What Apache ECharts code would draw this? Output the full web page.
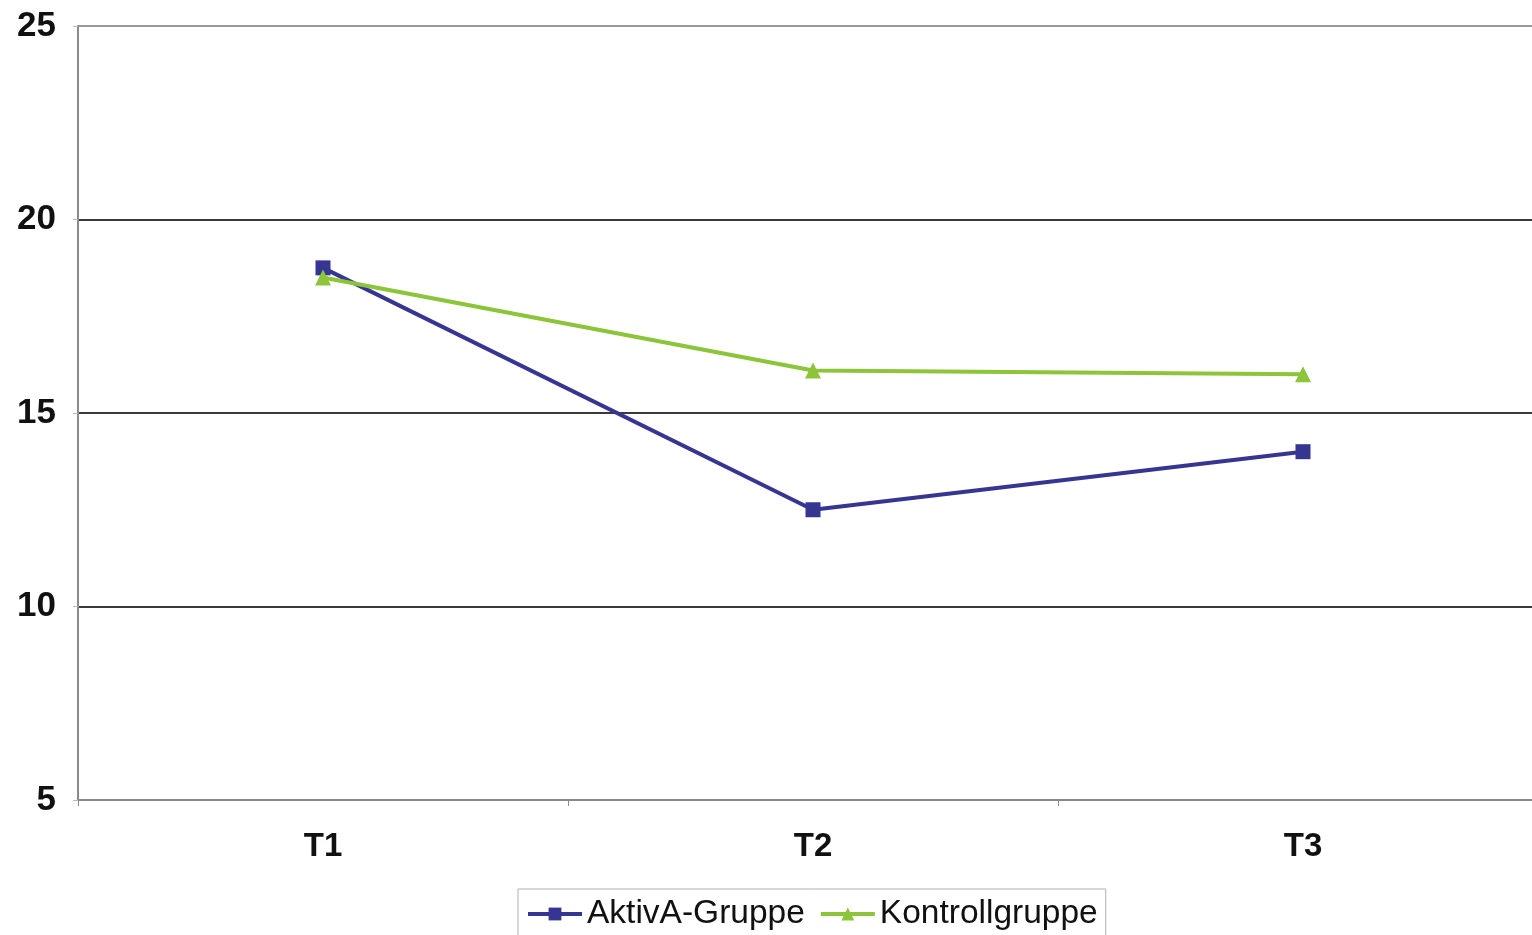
<!DOCTYPE html>
<html>
<head>
<meta charset="utf-8">
<script src="https://cdn.jsdelivr.net/npm/echarts@6/dist/echarts.min.js"></script>
<style>html,body{margin:0;padding:0;background:#fff;}#c{width:1532px;height:935px;}</style>
</head>
<body>
<div id="c"></div>
<script>
const categories = ['T1', 'T2', 'T3'];
const aktivA = [18.75, 12.5, 14.0];
const kontroll = [18.5, 16.1, 16.0];
const yMin = 5, yMax = 25, yStep = 5;

const chart = echarts.init(document.getElementById('c'));
chart.setOption({
  animation: false,
  backgroundColor: '#fff',
  textStyle: { fontFamily: 'Liberation Sans, Arial, sans-serif' },
  grid: { left: 78, top: 26, width: 1470, height: 774, outerBoundsMode: 'none', containLabel: false },
  xAxis: {
    type: 'category',
    data: categories,
    boundaryGap: true,
    axisLine: { lineStyle: { color: '#8a8a8a', width: 2 } },
    axisTick: { show: true, length: 6, lineStyle: { color: '#8a8a8a', width: 1 } },
    axisLabel: { margin: 30, fontSize: 33, fontWeight: 'bold', color: '#111' }
  },
  yAxis: {
    type: 'value',
    min: yMin, max: yMax, interval: yStep,
    axisLine: { show: true, lineStyle: { color: '#8a8a8a', width: 2 } },
    axisTick: { show: true, length: 5, lineStyle: { color: '#bbb' } },
    axisLabel: { margin: 22, fontSize: 35, fontWeight: 'bold', color: '#111' },
    splitLine: { show: true, lineStyle: { color: ['#8a8a8a', '#3a3a3a', '#3a3a3a', '#3a3a3a', '#9a9a9a'], width: 2 } }
  },
  legend: {
    left: 518, top: 889,
    padding: [8, 8, 14, 8],
    borderColor: '#b0b0b0', borderWidth: 1,
    itemWidth: 54, itemHeight: 16, itemGap: 14,
    lineStyle: { width: 4 },
    textStyle: { fontSize: 33.5, color: '#111' },
    data: ['AktivA-Gruppe', 'Kontrollgruppe']
  },
  series: [
    {
      name: 'AktivA-Gruppe', type: 'line', data: aktivA,
      symbol: 'rect', symbolSize: 15,
      lineStyle: { color: '#363692', width: 4 },
      itemStyle: { color: '#363692' }
    },
    {
      name: 'Kontrollgruppe', type: 'line', data: kontroll,
      symbol: 'triangle', symbolSize: 16,
      lineStyle: { color: '#8cc43a', width: 4 },
      itemStyle: { color: '#8cc43a' }
    }
  ]
});
</script>
</body>
</html>
